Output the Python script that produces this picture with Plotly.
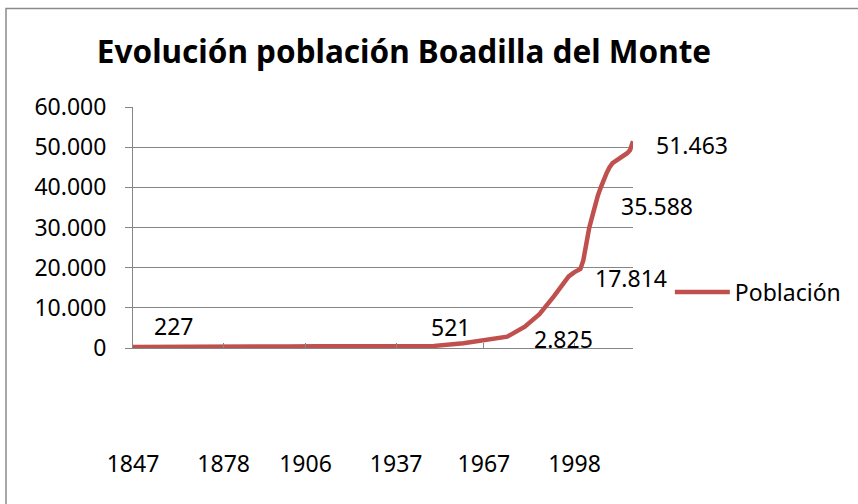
import plotly.graph_objects as go

# ---- data ----
years = [1847, 1857, 1860, 1877, 1887, 1897, 1900, 1910, 1920, 1930, 1940, 1950,
         1960, 1970, 1975, 1981, 1986, 1991, 1996, 1998, 1999, 2000, 2001, 2002,
         2003, 2004, 2005, 2006, 2007, 2008, 2009, 2010, 2011, 2012, 2013, 2014,
         2015, 2016, 2017, 2018]
population = [227, 310, 320, 330, 350, 380, 400, 420, 450, 480, 500, 521,
              1200, 2150, 2825, 5300, 8400, 12900, 17814, 18900, 19300, 19700, 21800, 26000,
              29800, 32600, 35588, 38000, 40000, 42000, 43600, 45000, 46000, 46500, 47000, 47400,
              47700, 48500, 49300, 51463]
x_tick_years = [1847, 1878, 1906, 1937, 1967, 1998]
y_tick_values = [0, 10000, 20000, 30000, 40000, 50000, 60000]

# labelled points: (year, x-shift px, y-shift px, anchor)
label_years = [1847, 1950, 1975, 1996, 2005, 2018]
label_style = {
    1847: dict(xshift=40, yshift=21, xanchor="center"),
    1950: dict(xshift=16, yshift=19, xanchor="center"),
    1975: dict(xshift=25, yshift=-2, xanchor="left"),
    1996: dict(xshift=24, yshift=-2, xanchor="left"),
    2005: dict(xshift=24, yshift=-1, xanchor="left"),
    2018: dict(xshift=21, yshift=-4, xanchor="left"),
}

FONT = "Noto Sans"
GRID = "#868686"
LINE = "#C0504D"

# plot area in pixels
L, R, T, B = 133, 635, 107, 348
W, H = 858, 504


def fmt(v):
    return f"{v:,}".replace(",", ".")


fig = go.Figure()
fig.add_trace(go.Scatter(
    x=years, y=population, mode="lines", name="Población",
    line=dict(color=LINE, width=4.5),
    hoverinfo="skip",
))

annotations = []
for yr in label_years:
    v = population[years.index(yr)]
    st = label_style[yr]
    annotations.append(dict(
        x=yr, y=v, xref="x", yref="y", text=fmt(v), showarrow=False,
        xanchor=st["xanchor"], yanchor="middle",
        xshift=st["xshift"], yshift=st["yshift"],
        font=dict(family=FONT, size=23, color="black"),
    ))

pw = R - L
ph = B - T


def px_x(p):
    return (p - L) / pw


def px_y(p):
    return (B - p) / ph


fig.update_layout(
    width=W, height=H,
    margin=dict(l=L, r=W - R, t=T, b=H - B, pad=0),
    paper_bgcolor="white", plot_bgcolor="white",
    separators=",.",
    font=dict(family=FONT, size=23, color="black"),
    title=dict(
        text="<b>Evolución población Boadilla del Monte</b>",
        font=dict(family=FONT, size=31.5, color="black"),
        x=404 / W, xanchor="center", xref="container",
        y=1 - 52 / H, yanchor="middle", yref="container",
    ),
    xaxis=dict(
        range=[years[0], years[-1]],
        tickmode="array", tickvals=x_tick_years,
        ticktext=[str(t) for t in x_tick_years],
        ticks="inside", ticklen=5, tickcolor=GRID, tickwidth=1,
        showgrid=False, zeroline=False,
        showline=True, linecolor=GRID, linewidth=1,
        ticklabelstandoff=95,
        tickfont=dict(family=FONT, size=23, color="black"),
    ),
    yaxis=dict(
        range=[0, 60000],
        tickmode="array", tickvals=y_tick_values,
        tickformat=",d",
        ticks="outside", ticklen=7, tickcolor=GRID, tickwidth=1,
        showgrid=True, gridcolor=GRID, gridwidth=1,
        zeroline=False,
        showline=True, linecolor=GRID, linewidth=1,
        ticklabelstandoff=14,
        tickfont=dict(family=FONT, size=23, color="black"),
    ),
    showlegend=True,
    legend=dict(
        x=px_x(672), y=px_y(292), xref="paper", yref="paper",
        xanchor="left", yanchor="middle",
        itemwidth=55,
        font=dict(family=FONT, size=23, color="black"),
        bgcolor="rgba(0,0,0,0)",
    ),
    annotations=annotations,
    shapes=[dict(
        type="rect", xref="paper", yref="paper",
        x0=px_x(5.5), x1=px_x(1000), y0=px_y(700), y1=px_y(8.5),
        line=dict(color="#8A8A8A", width=1.5), fillcolor="rgba(0,0,0,0)",
        layer="below",
    )],
)

fig.write_html("out.html", config={"displayModeBar": False},
               post_script="document.body.style.margin='0px';")
